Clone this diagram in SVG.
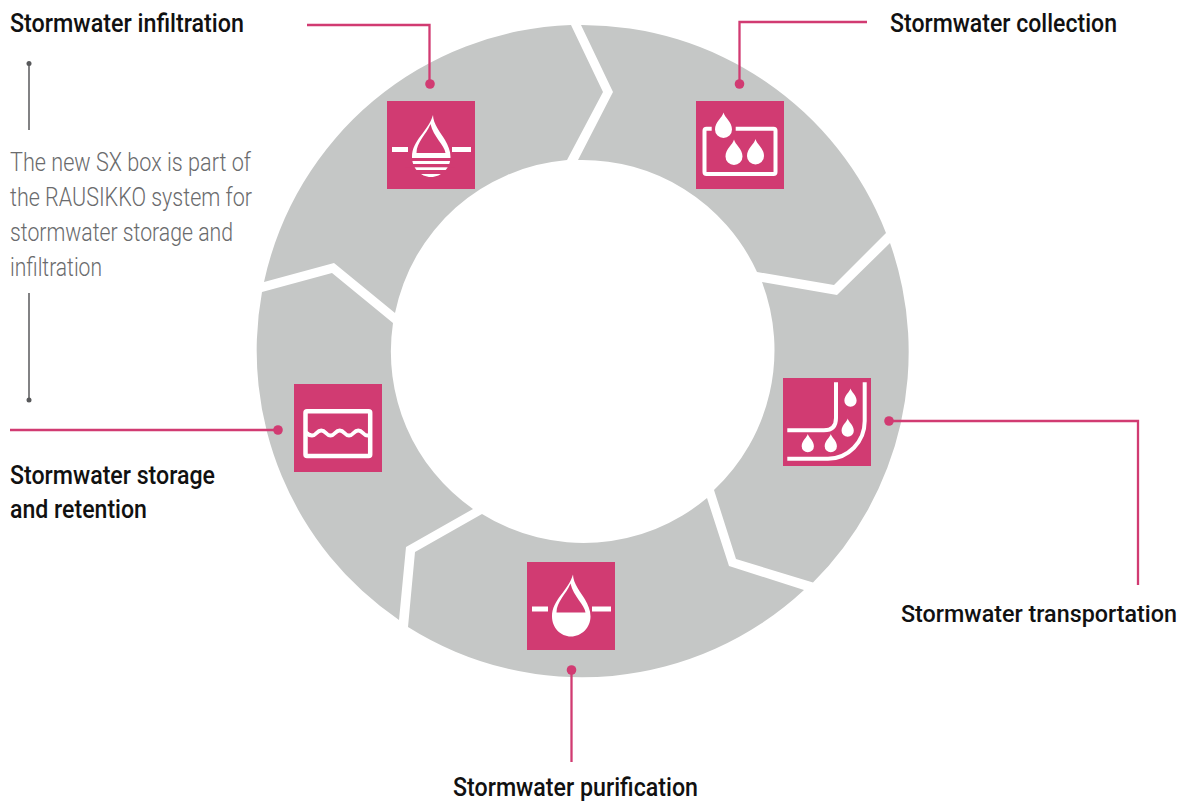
<svg xmlns="http://www.w3.org/2000/svg" xmlns:xlink="http://www.w3.org/1999/xlink" width="1185" height="801" viewBox="0 0 1185 801">
<style>
.seg{fill:#c5c7c6}
.sq{fill:#d13b72}
.w{fill:#fff}
.ws{fill:none;stroke:#fff;stroke-width:4}
.conn{fill:none;stroke:#d13b72;stroke-width:2.300}
.dot{fill:#d13b72}
.gl{fill:none;stroke:#58595b;stroke-width:1.500}
.gd{fill:#58595b}
.h{font-family:Roboto,"Liberation Sans",sans-serif;font-weight:500;font-size:25.500px;fill:#111}
.t{font-size:23.800px}
.b{font-family:Roboto,"Liberation Sans",sans-serif;font-weight:300;font-size:25px;fill:#6a6b6d}
</style>
<defs>
<path id="d" d="M0 0C1 5 8.500 9 8.500 17A8.500 8.500 0 0 1-8.500 17C-8.500 9-1 5 0 0Z"/>
<g id="bigdrop">
<path class="w" d="M433 115C433 124 441 133 445 140C448 145 450.500 151 450.500 157C450.500 168 441.500 177 431 177C420.500 177 412 168 412 157C412 140 428 132 433 115Z"/>
<path class="sq" d="M430.500 124C426 135 416.500 142 416.500 153H445.500C444.500 145 433.500 137 430.500 124Z"/>
<rect class="w" x="392" y="147" width="16" height="5"/>
<rect class="w" x="452" y="147" width="19" height="5"/>
</g>
</defs>
<g id="ring">
<path id="seg-collection" class="seg" d="M581 25L613 92L578 160A192 192 0 0 1 757 272L834 285L886 233A326 326 0 0 0 581 25Z"/>
<path id="seg-transportation" class="seg" d="M890 243L837 295L762 282A192 192 0 0 1 714 490L736 559L813 582.500A326 326 0 0 0 890 243Z"/>
<path id="seg-purification" class="seg" d="M804 590L729 566L707 498A192 192 0 0 1 482 514L415 552L408 627A326 326 0 0 0 804 590Z"/>
<path id="seg-storage" class="seg" d="M399 620L406 547L473 509A192 192 0 0 1 393 323L332 273L262 292A326 326 0 0 0 399 620Z"/>
<path id="seg-infiltration" class="seg" d="M264 282L334 263L395 313A192 192 0 0 1 567 160L603 92L571 25A326 326 0 0 0 264 282Z"/>
</g>
<g id="connectors">
<path class="conn" d="M307 25H429.500V84"/>
<path class="conn" d="M867 22H739.500V84"/>
<path class="conn" d="M889 421H1138V585"/>
<path class="conn" d="M571.500 670V762"/>
<path class="conn" d="M278 430H10"/>
<path class="gl" d="M29 63V130"/>
<path class="gl" d="M29 293V400"/>
<circle class="gd" cx="29" cy="63.500" r="2.500"/>
<circle class="gd" cx="29" cy="400" r="2.500"/>
</g>
<g id="node-infiltration">
<circle class="dot" cx="430" cy="84" r="4.800"/>
<rect class="sq" x="387" y="101" width="88" height="88"/>
<use xlink:href="#bigdrop" href="#bigdrop"/>
<rect class="sq" x="405" y="158" width="50" height="3"/>
<rect class="sq" x="405" y="164" width="50" height="3.300"/>
<rect class="sq" x="405" y="170" width="50" height="4"/>
<text class="h" x="10" y="32" textLength="234" lengthAdjust="spacingAndGlyphs">Stormwater infiltration</text>
</g>
<g id="node-collection">
<circle class="dot" cx="739.500" cy="84" r="4.800"/>
<rect class="sq" x="696" y="101" width="88" height="88"/>
<path class="ws" d="M711.700 128.700H706.500Q704.500 128.700 704.500 130.700V172Q704.500 174 706.500 174H773.500Q775.500 174 775.500 172V130.700Q775.500 128.700 773.500 128.700H735.700"/>
<use xlink:href="#d" href="#d" class="w" transform="translate(723.500 112.500)"/>
<use xlink:href="#d" href="#d" class="w" transform="translate(734 139.500)"/>
<use xlink:href="#d" href="#d" class="w" transform="translate(755.500 139)"/>
<text class="h" x="890" y="32" textLength="227" lengthAdjust="spacingAndGlyphs">Stormwater collection</text>
</g>
<g id="node-transportation">
<circle class="dot" cx="889" cy="421" r="4.800"/>
<rect class="sq" x="783" y="378" width="88" height="88"/>
<path class="ws" d="M836 382.300V418Q836 430.300 824 430.300H787.300"/>
<path class="ws" d="M864.700 382.300V421C864.700 442 848 458.700 828 458.700H787.300"/>
<use xlink:href="#d" href="#d" class="w" transform="translate(850.500 388.500) scale(.72)"/>
<use xlink:href="#d" href="#d" class="w" transform="translate(847.700 418.500) scale(.72)"/>
<use xlink:href="#d" href="#d" class="w" transform="translate(807.800 434) scale(.72)"/>
<use xlink:href="#d" href="#d" class="w" transform="translate(830.800 434) scale(.72)"/>
<text class="h t" x="901" y="622" textLength="276" lengthAdjust="spacingAndGlyphs">Stormwater transportation</text>
</g>
<g id="node-purification">
<circle class="dot" cx="571.500" cy="670" r="4.800"/>
<rect class="sq" x="527" y="562" width="88" height="88"/>
<use xlink:href="#bigdrop" href="#bigdrop" transform="translate(140 459.500)"/>
<text class="h" x="453" y="796" textLength="245" lengthAdjust="spacingAndGlyphs">Stormwater purification</text>
</g>
<g id="node-storage">
<circle class="dot" cx="278" cy="430" r="4.800"/>
<rect class="sq" x="294" y="384" width="88" height="88"/>
<rect x="305.500" y="411.300" width="64.700" height="44.700" rx="1.500" fill="none" stroke="#fff" stroke-width="4.500"/>
<path fill="none" stroke="#fff" stroke-width="4" d="M306 432.500Q309 435.500 312 435.500C316.600 435.500 316.600 430.500 321.250 430.500C325.900 430.500 325.900 435.500 330.500 435.500C335.100 435.500 335.100 430.500 339.750 430.500C344.400 430.500 344.400 435.500 349 435.500C353.600 435.500 353.600 430.500 358.250 430.500C362.900 430.500 362.900 435.500 367.500 435.500Q369 435.500 370 434"/>
<text class="h" x="10" y="484" textLength="205" lengthAdjust="spacingAndGlyphs">Stormwater storage</text>
<text class="h" x="10" y="518" textLength="137" lengthAdjust="spacingAndGlyphs">and retention</text>
</g>
<g id="note">
<text class="b" x="10" y="171" textLength="241" lengthAdjust="spacingAndGlyphs">The new SX box is part of</text>
<text class="b" x="10" y="205.500" textLength="242" lengthAdjust="spacingAndGlyphs">the RAUSIKKO system for</text>
<text class="b" x="10" y="240.500" textLength="223" lengthAdjust="spacingAndGlyphs">stormwater storage and</text>
<text class="b" x="10" y="275.500" textLength="92" lengthAdjust="spacingAndGlyphs">infiltration</text>
</g>
</svg>
